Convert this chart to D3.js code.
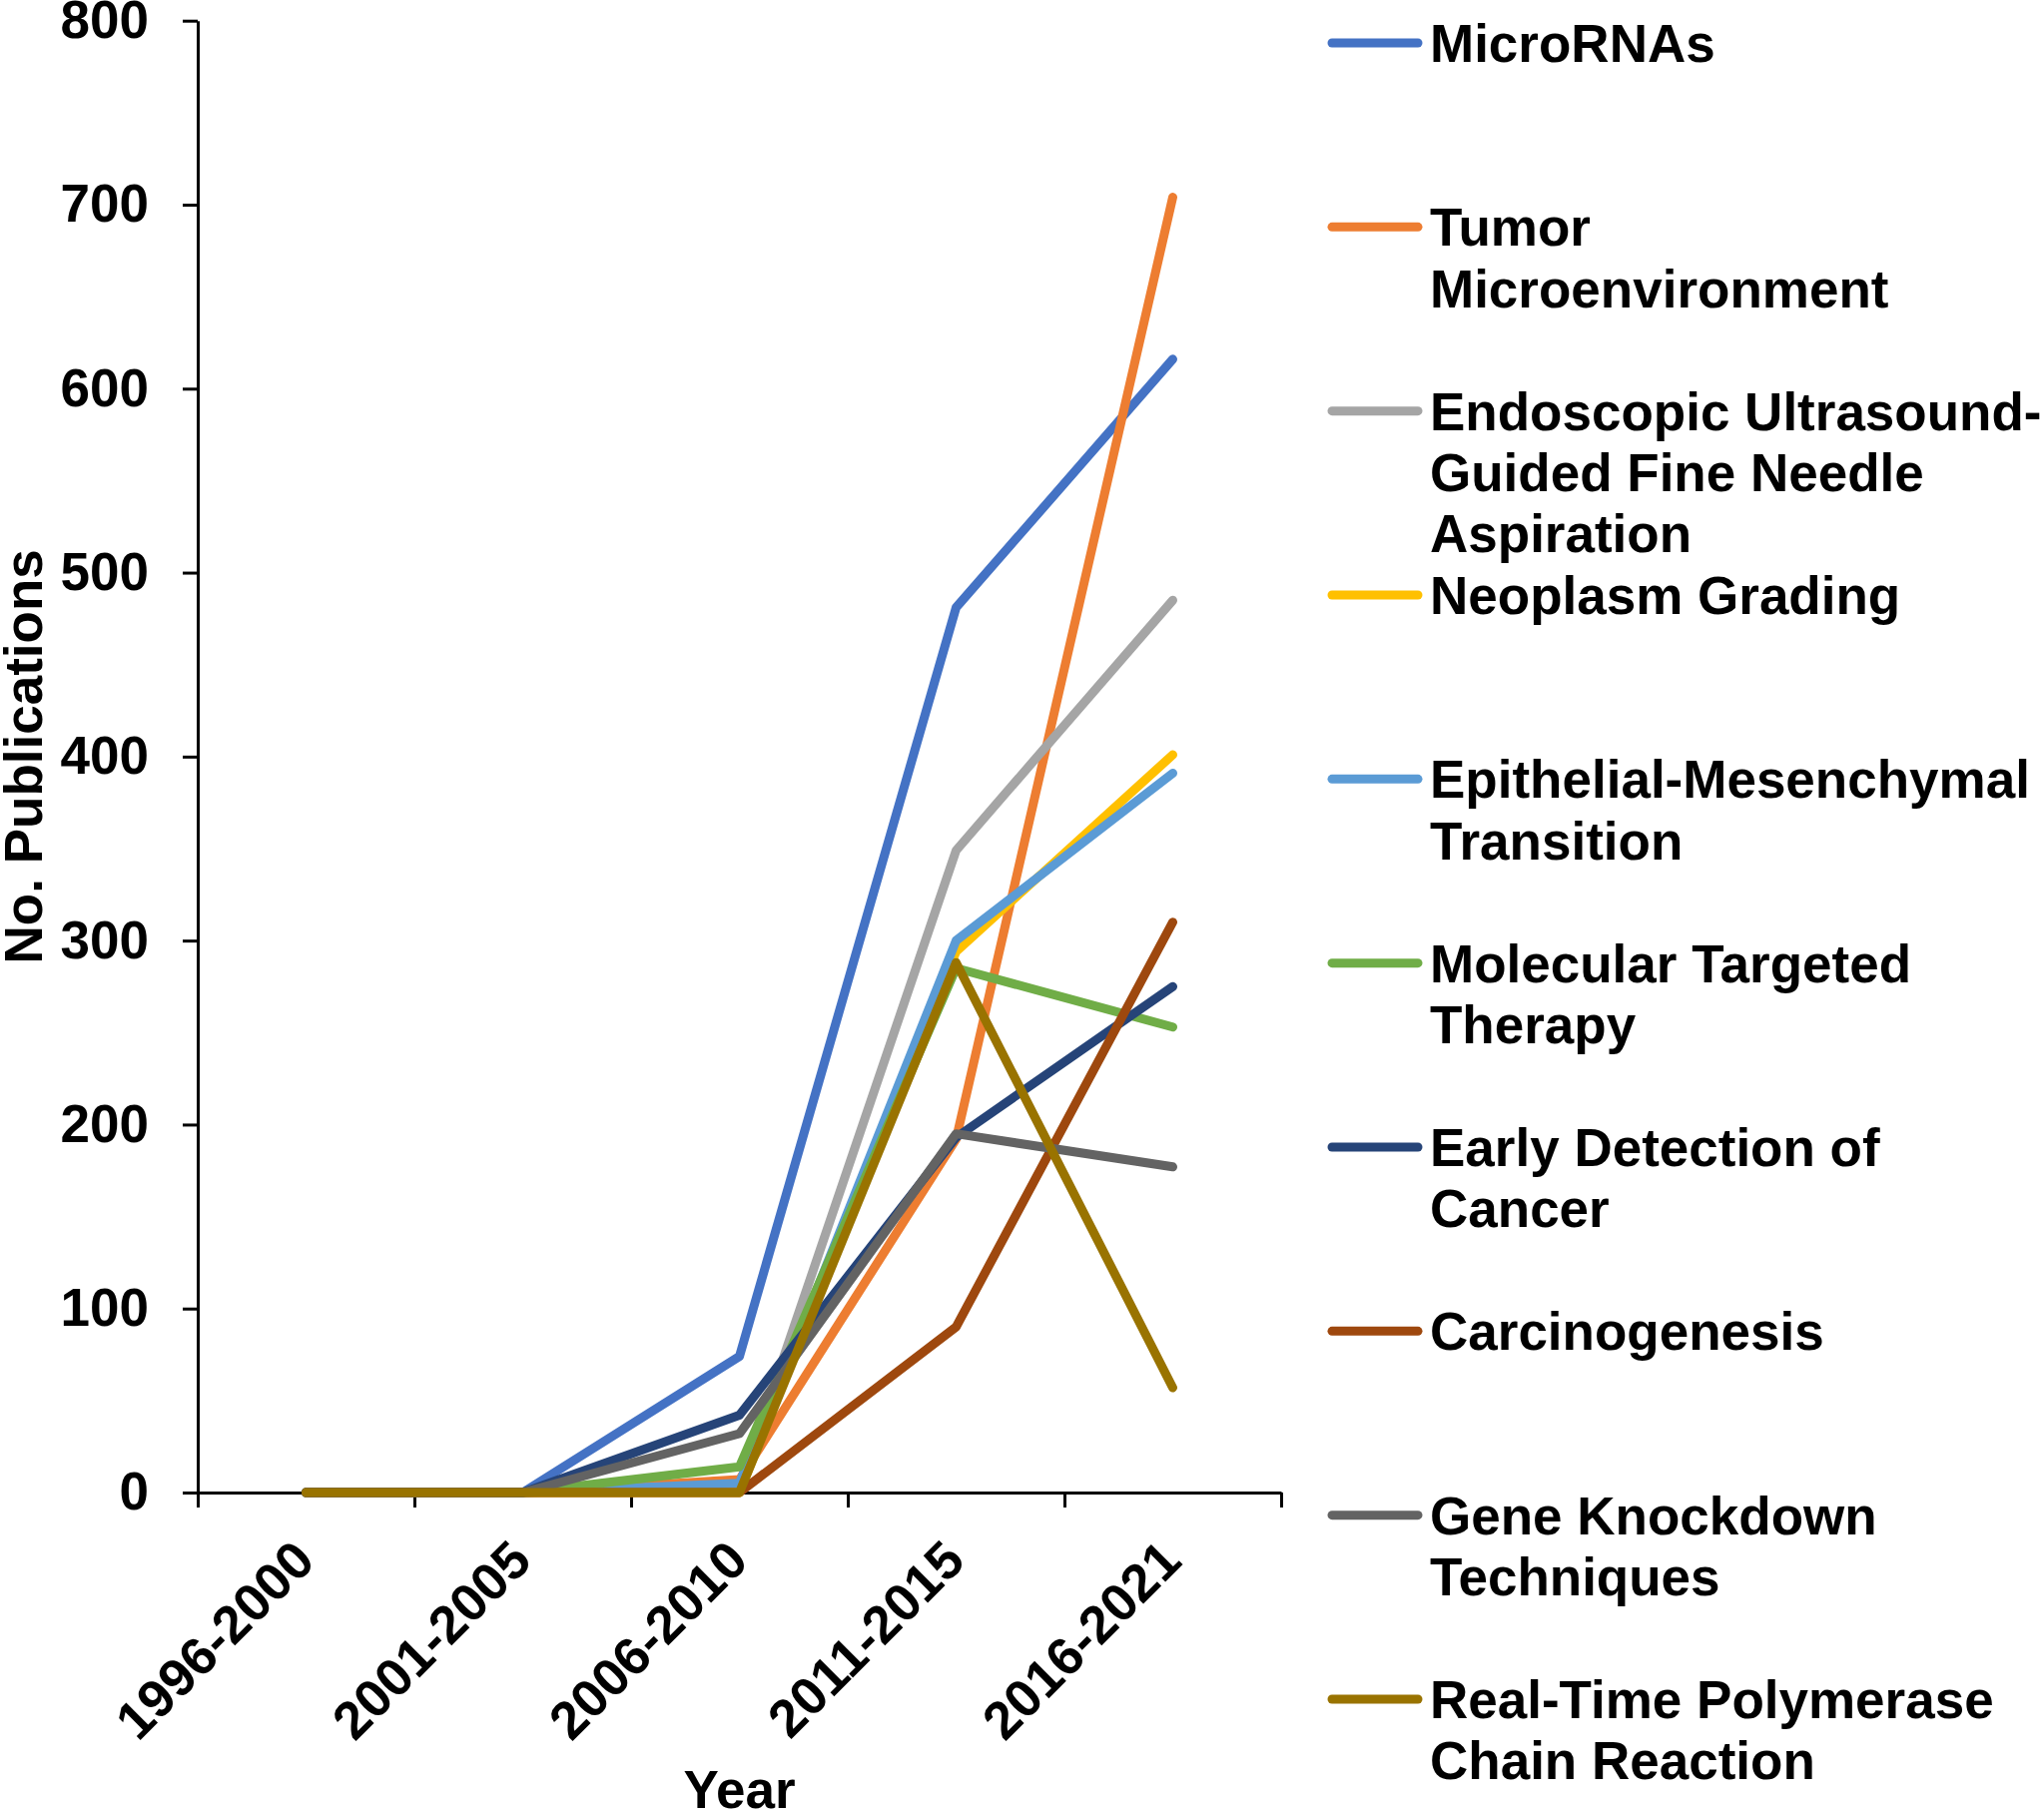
<!DOCTYPE html>
<html>
<head>
<meta charset="utf-8">
<title>No. Publications by Year</title>
<script src="https://cdn.jsdelivr.net/npm/d3@7/dist/d3.min.js"></script>
<style>
  body { margin: 0; background: #fff; }
  text { font-family: "Liberation Sans", Arial, sans-serif; font-weight: bold; fill: #000; }
</style>
</head>
<body>
<div id="chart"></div>
<script>
// categories on the x axis
const categories = ["1996-2000", "2001-2005", "2006-2010", "2011-2015", "2016-2021"];

// series values, one array per keyword
const microRNAs      = [0, 0, 74, 481, 616];
const tumorMicroenv  = [0, 0, 7, 192, 704];
const eusFna         = [0, 0, 3, 349, 485];
const neoplasmGrade  = [0, 0, 0, 294, 401];
const emt            = [0, 0, 5, 300, 391];
const molecularTher  = [0, 0, 14, 285, 253];
const earlyDetection = [0, 0, 42, 193, 275];
const carcinogenesis = [0, 0, 0, 90, 310];
const geneKnockdown  = [0, 0, 32, 195, 177];
const rtPcr          = [0, 0, 0, 288, 57];

// legend labels (already wrapped like the original)
const seriesLabels = [
  ["MicroRNAs"],
  ["Tumor", "Microenvironment"],
  ["Endoscopic Ultrasound-", "Guided Fine Needle", "Aspiration"],
  ["Neoplasm Grading"],
  ["Epithelial-Mesenchymal", "Transition"],
  ["Molecular Targeted", "Therapy"],
  ["Early Detection of", "Cancer"],
  ["Carcinogenesis"],
  ["Gene Knockdown", "Techniques"],
  ["Real-Time Polymerase", "Chain Reaction"]
];
const seriesValues = [microRNAs, tumorMicroenv, eusFna, neoplasmGrade, emt,
  molecularTher, earlyDetection, carcinogenesis, geneKnockdown, rtPcr];
const colors = ["#4472C4", "#ED7D31", "#A5A5A5", "#FFC000", "#5B9BD5",
  "#70AD47", "#264478", "#9E480E", "#636363", "#997300"];

const yTicks = [0, 100, 200, 300, 400, 500, 600, 700, 800];

const width = 2047, height = 1813;
const plotLeft = 198, plotRight = 1283, plotTop = 20.7, plotBottom = 1495;
const fontSize = 53;

const svg = d3.select("#chart").append("svg")
  .attr("width", width)
  .attr("height", height);

// scales
const x = d3.scaleBand().domain(categories).range([plotLeft, plotRight]).paddingInner(0).paddingOuter(0);
const xc = d => x(d) + x.bandwidth() / 2;
const xEdge = d3.scaleLinear().domain([0, categories.length]).range([plotLeft, plotRight]);
const y = d3.scaleLinear().domain([0, 800]).range([plotBottom, plotTop]);

// y axis
const yAxis = svg.append("g")
  .attr("transform", `translate(${plotLeft},0)`)
  .call(d3.axisLeft(y).tickValues(yTicks).tickSize(15).tickSizeOuter(0).tickPadding(34));
yAxis.select(".domain").attr("stroke", "#000").attr("stroke-width", 3);
yAxis.selectAll(".tick line").attr("stroke", "#000").attr("stroke-width", 3);
yAxis.selectAll(".tick text")
  .attr("font-size", fontSize)
  .attr("font-family", "Liberation Sans, Arial, sans-serif")
  .attr("font-weight", "bold")
  .attr("fill", "#000");

// x axis (ticks between categories, like Excel)
const xAxis = svg.append("g")
  .attr("transform", `translate(0,${plotBottom})`)
  .call(d3.axisBottom(xEdge).tickValues(d3.range(categories.length + 1)).tickFormat("").tickSize(15).tickSizeOuter(0));
xAxis.select(".domain").attr("stroke", "#000").attr("stroke-width", 3);
xAxis.selectAll(".tick line").attr("stroke", "#000").attr("stroke-width", 3);

// rotated category labels
svg.append("g").selectAll("text")
  .data(categories)
  .join("text")
  .attr("transform", d => `translate(${xc(d) + 11},${plotBottom + 71}) rotate(-45)`)
  .attr("text-anchor", "end")
  .attr("font-size", fontSize)
  .text(d => d);

// axis titles
svg.append("text")
  .attr("transform", `translate(${(plotLeft + plotRight) / 2},1811)`)
  .attr("text-anchor", "middle")
  .attr("font-size", fontSize)
  .text("Year");

svg.append("text")
  .attr("transform", `translate(42,${(plotTop + plotBottom) / 2}) rotate(-90)`)
  .attr("text-anchor", "middle")
  .attr("font-size", fontSize)
  .text("No. Publications");

// series lines
const line = d3.line()
  .x((d, i) => xc(categories[i]))
  .y(d => y(d));

svg.append("g").selectAll("path")
  .data(seriesValues)
  .join("path")
  .attr("d", d => line(d))
  .attr("fill", "none")
  .attr("stroke", (d, i) => colors[i])
  .attr("stroke-width", 9)
  .attr("stroke-linecap", "round")
  .attr("stroke-linejoin", "round");

// legend
const legendY = d3.scalePoint().domain(d3.range(seriesLabels.length)).range([43, 1702]);
const legend = svg.append("g").selectAll("g")
  .data(seriesLabels)
  .join("g")
  .attr("transform", (d, i) => `translate(0,${legendY(i)})`);

legend.append("line")
  .attr("x1", 1334).attr("x2", 1420)
  .attr("y1", 0).attr("y2", 0)
  .attr("stroke", (d, i) => colors[i])
  .attr("stroke-width", 9)
  .attr("stroke-linecap", "round");

legend.append("text")
  .attr("x", 1432)
  .attr("y", 19)
  .attr("font-size", fontSize)
  .selectAll("tspan")
  .data(d => d)
  .join("tspan")
  .attr("x", 1432)
  .attr("dy", (d, i) => i === 0 ? 0 : 61.4)
  .text(d => d);
</script>
</body>
</html>
